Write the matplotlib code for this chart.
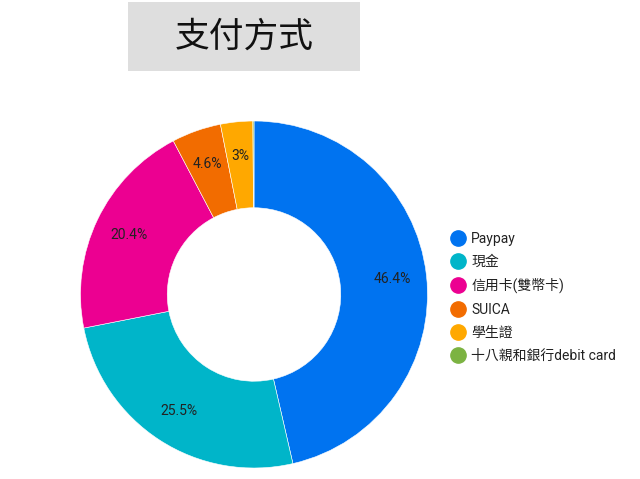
import matplotlib
matplotlib.use('Agg')
import matplotlib.pyplot as plt
import numpy as np
from matplotlib.patches import Rectangle
from matplotlib.lines import Line2D

plt.rcParams['font.family'] = ['Roboto', 'Noto Sans CJK TC', 'DejaVu Sans']

title = '支付方式'
labels = ['Paypay', '現金', '信用卡(雙幣卡)', 'SUICA', '學生證', '十八親和銀行debit card']
values = [46.4, 25.5, 20.4, 4.6, 3.0, 0.1]
pct_text = ['46.4%', '25.5%', '20.4%', '4.6%', '3%', '']
colors = ['#0073f0', '#00b5c9', '#ec0091', '#f26c00', '#ffa800', '#7cb342']

W, H = 640, 479
fig = plt.figure(figsize=(6.4, 4.79), dpi=100)

# title box
fig.patches.append(Rectangle((128 / W, 1 - 71 / H), 232 / W, 69 / H,
                             transform=fig.transFigure, facecolor='#dedede',
                             edgecolor='none', zorder=0))
fig.text(244 / W, 1 - 37 / H, title, fontsize=25, ha='center', va='center',
         family=['Noto Sans CJK TC'], color='#111111')

# donut
cx, cy, r = 254, 294.5, 173.5
ax = fig.add_axes([(cx - r) / W, (H - cy - r) / H, 2 * r / W, 2 * r / H])
wedges, _ = ax.pie(values, colors=colors, startangle=90, counterclock=False,
                   wedgeprops=dict(width=0.5, edgecolor='white', linewidth=0.4))
for w, t in zip(wedges, pct_text):
    if not t:
        continue
    ang = np.deg2rad((w.theta1 + w.theta2) / 2)
    ax.text(0.8 * np.cos(ang), 0.8 * np.sin(ang), t, ha='center', va='center',
            fontsize=10, color='#222222')
ax.set_xlim(-1, 1)
ax.set_ylim(-1, 1)
ax.set_aspect('equal')
ax.axis('off')

# legend
handles = [Line2D([], [], marker='o', linestyle='none', markersize=11,
                  markerfacecolor=c, markeredgecolor=c) for c in colors]
leg = fig.legend(handles, labels, loc='upper left',
                 bbox_to_anchor=(451 / W, 1 - 232 / H), frameon=False,
                 fontsize=10, handletextpad=0.45, labelspacing=0.65,
                 handlelength=1.0, borderpad=0, borderaxespad=0)
for t in leg.get_texts():
    t.set_color('#222222')

fig.savefig('out.png', dpi=100)
